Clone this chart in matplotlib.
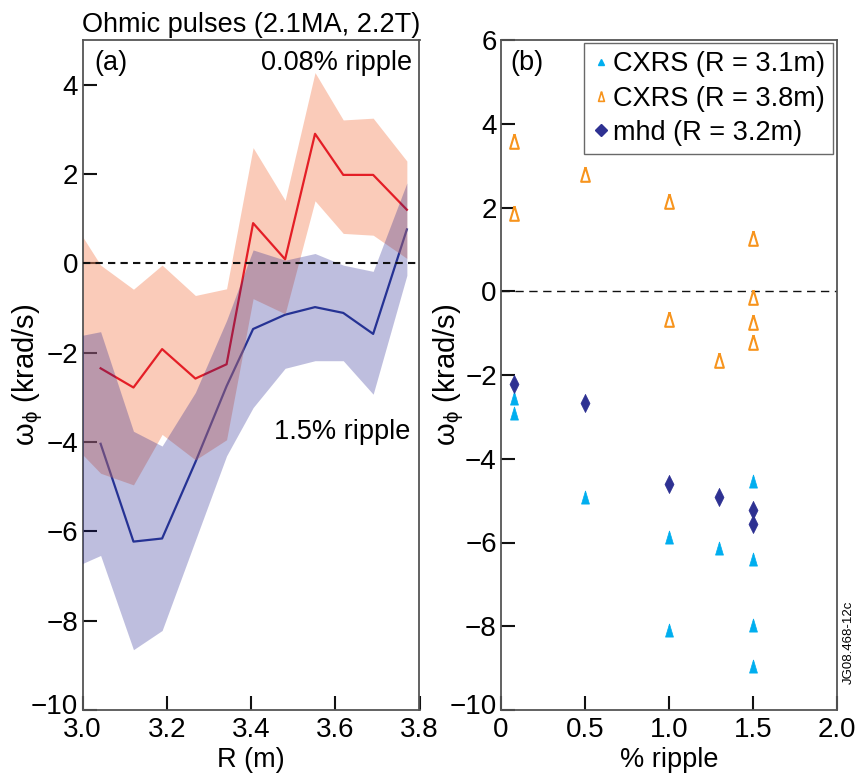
import matplotlib
matplotlib.use("Agg")
import matplotlib.pyplot as plt
import matplotlib.transforms as mtransforms
from matplotlib.lines import Line2D
import numpy as np

plt.rcParams['font.family'] = ['Liberation Sans', 'DejaVu Sans']
plt.rcParams['mathtext.fontset'] = 'custom'
plt.rcParams['mathtext.rm'] = 'Liberation Sans'
plt.rcParams['mathtext.it'] = 'Liberation Sans'

# ---------------- data: panel (a) ----------------
R_line = [3.043, 3.121, 3.189, 3.268, 3.342, 3.405, 3.481, 3.552, 3.619, 3.690, 3.770]
w_low_ripple = [-2.35, -2.78, -1.92, -2.58, -2.26, 0.90, 0.09, 2.90, 1.98, 1.98, 1.20]
w_high_ripple = [-4.04, -6.23, -6.16, -4.45, -2.75, -1.47, -1.15, -0.98, -1.11, -1.58, 0.76]

R_band = [3.0, 3.043, 3.121, 3.189, 3.268, 3.342, 3.405, 3.481, 3.552, 3.619, 3.690, 3.770]
low_upper = [0.60, -0.04, -0.58, -0.04, -0.72, -0.57, 2.59, 1.41, 4.27, 3.21, 3.25, 2.29]
low_lower = [-4.28, -4.70, -4.96, -3.83, -4.40, -3.95, -0.79, -1.13, 1.40, 0.67, 0.63, 0.11]
high_upper = [-1.61, -1.53, -3.76, -4.09, -2.89, -1.28, 0.30, 0.07, 0.22, -0.04, -0.18, 1.80]
high_lower = [-6.72, -6.54, -8.65, -8.22, -6.20, -4.31, -3.23, -2.35, -2.18, -2.18, -2.93, -0.27]

# ---------------- data: panel (b) ----------------
cx31_ripple = [0.08, 0.08, 0.5, 1.0, 1.0, 1.3, 1.5, 1.5, 1.5, 1.5]
cx31_w = [-2.54, -2.91, -4.91, -5.88, -8.10, -6.14, -4.52, -6.40, -7.97, -8.96]
cx38_ripple = [0.08, 0.08, 0.5, 1.0, 1.0, 1.3, 1.5, 1.5, 1.5, 1.5]
cx38_w = [3.60, 1.86, 2.80, 2.15, -0.67, -1.65, 1.27, -0.14, -0.74, -1.20]
mhd_ripple = [0.08, 0.5, 1.0, 1.3, 1.5, 1.5]
mhd_w = [-2.22, -2.66, -4.60, -4.92, -5.22, -5.56]

legend_labels = ['CXRS (R = 3.1m)', 'CXRS (R = 3.8m)', 'mhd (R = 3.2m)']

# ---------------- style ----------------
c_red_line = '#e41e26'
c_blue_line = '#2b3d98'
c_red_band = '#f58c64'
c_blue_band = '#17178a'
c_cyan = '#00aeef'
c_orange = '#f7941d'
c_navy = '#2e3192'
spine_c = '#555555'

tri = [(0, 1), (-0.6, -1), (0.6, -1), (0, 1)]
dia = [(0, 1), (0.5, 0), (0, -1), (-0.5, 0), (0, 1)]

fig = plt.figure(figsize=(8.59, 7.75), dpi=100)
axL = fig.add_axes([82.5 / 859, (775 - 710) / 775, 337 / 859, 670 / 775])
axR = fig.add_axes([501 / 859, (775 - 710) / 775, 336 / 859, 670 / 775])

tick_fs = 20
txt_fs = 19.5
for ax in (axL, axR):
    for s in ax.spines.values():
        s.set_color(spine_c)
        s.set_linewidth(1.3)
    ax.tick_params(direction='in', length=10, width=1.5, color='#111111',
                   labelsize=tick_fs, top=False, right=False)
    ax.tick_params(axis='y', pad=3)
    ax.tick_params(axis='x', pad=5)

# panel (a)
axL.plot(R_line, w_high_ripple, color=c_blue_line, lw=1.6, zorder=1)
axL.fill_between(R_band, low_lower, low_upper, color=c_red_band, alpha=0.45,
                 lw=0, zorder=2)
axL.plot(R_line, w_low_ripple, color=c_red_line, lw=1.6, zorder=3)
axL.fill_between(R_band, high_lower, high_upper, color=c_blue_band, alpha=0.28,
                 lw=0, zorder=4)
axL.axhline(0, color='#111111', lw=1.5, ls=(0, (3.5, 2.5)), zorder=6)
axL.set_xlim(3.0, 3.8)
axL.set_ylim(-10, 5)
axL.set_xticks([3.0, 3.2, 3.4, 3.6, 3.8])
axL.set_xticklabels(['3.0', '3.2', '3.4', '3.6', '3.8'])
axL.set_yticks([-10, -8, -6, -4, -2, 0, 2, 4])
axL.set_xlabel('R (m)', fontsize=txt_fs, labelpad=3)
axL.set_ylabel(r'$\mathregular{\omega_\phi}$ (krad/s)', fontsize=21)
axL.yaxis.set_label_coords(-0.112, 0.5)
axL.set_title('Ohmic pulses (2.1MA, 2.2T)', fontsize=txt_fs, pad=6)
axL.text(0.035, 0.985, '(a)', transform=axL.transAxes, fontsize=txt_fs,
         ha='left', va='top')
axL.text(0.978, 0.985, '0.08% ripple', transform=axL.transAxes, fontsize=txt_fs,
         ha='right', va='top')
axL.text(0.972, 0.415, '1.5% ripple', transform=axL.transAxes, fontsize=txt_fs,
         ha='right', va='center')

# panel (b)
axR.axhline(0, color='#111111', lw=1.0, ls=(0, (6, 4)), zorder=1)
axR.plot(cx31_ripple, cx31_w, ls='none', marker=tri, ms=9.5,
         mfc=c_cyan, mec=c_cyan, mew=0.5, zorder=3)
axR.plot(cx38_ripple, cx38_w, ls='none', marker=tri, ms=10.5,
         mfc='none', mec=c_orange, mew=1.5, zorder=3)
axR.plot(mhd_ripple, mhd_w, ls='none', marker=dia, ms=13,
         mfc=c_navy, mec=c_navy, mew=0.5, zorder=4)
axR.set_xlim(0, 2.0)
axR.set_ylim(-10, 6)
axR.set_xticks([0, 0.5, 1.0, 1.5, 2.0])
axR.set_xticklabels(['0', '0.5', '1.0', '1.5', '2.0'])
axR.set_yticks([-10, -8, -6, -4, -2, 0, 2, 4, 6])
axR.set_xlabel('% ripple', fontsize=txt_fs, labelpad=3)
axR.set_ylabel(r'$\mathregular{\omega_\phi}$ (krad/s)', fontsize=21)
axR.yaxis.set_label_coords(-0.105, 0.5)
axR.text(0.028, 0.985, '(b)', transform=axR.transAxes, fontsize=txt_fs,
         ha='left', va='top')

# nudge the bottom "-10" labels up a little so they sit just above the x labels
shift = mtransforms.ScaledTranslation(0, 4 / 72, fig.dpi_scale_trans)
for ax in (axL, axR):
    ytl = ax.get_yticklabels()
    ytl[0].set_transform(ytl[0].get_transform() + shift)

handles = [
    Line2D([], [], ls='none', marker='^', ms=5, mfc=c_cyan, mec=c_cyan),
    Line2D([], [], ls='none', marker=tri, ms=7, mfc='none', mec=c_orange, mew=1.2),
    Line2D([], [], ls='none', marker='D', ms=6, mfc=c_navy, mec=c_navy),
]
leg = axR.legend(handles, legend_labels, loc='upper right',
                 bbox_to_anchor=(0.988, 0.995), borderaxespad=0, fontsize=19.5,
                 frameon=True, fancybox=False, handlelength=0.6,
                 handletextpad=0.15, labelspacing=0.3, borderpad=0.3)
leg.get_frame().set_edgecolor('#444444')
leg.get_frame().set_linewidth(1.0)

fig.text(849 / 859, 1 - 642 / 775, 'JG08.468-12c', rotation=90, fontsize=9.5,
         ha='center', va='center')

fig.savefig('out.png', dpi=100)
